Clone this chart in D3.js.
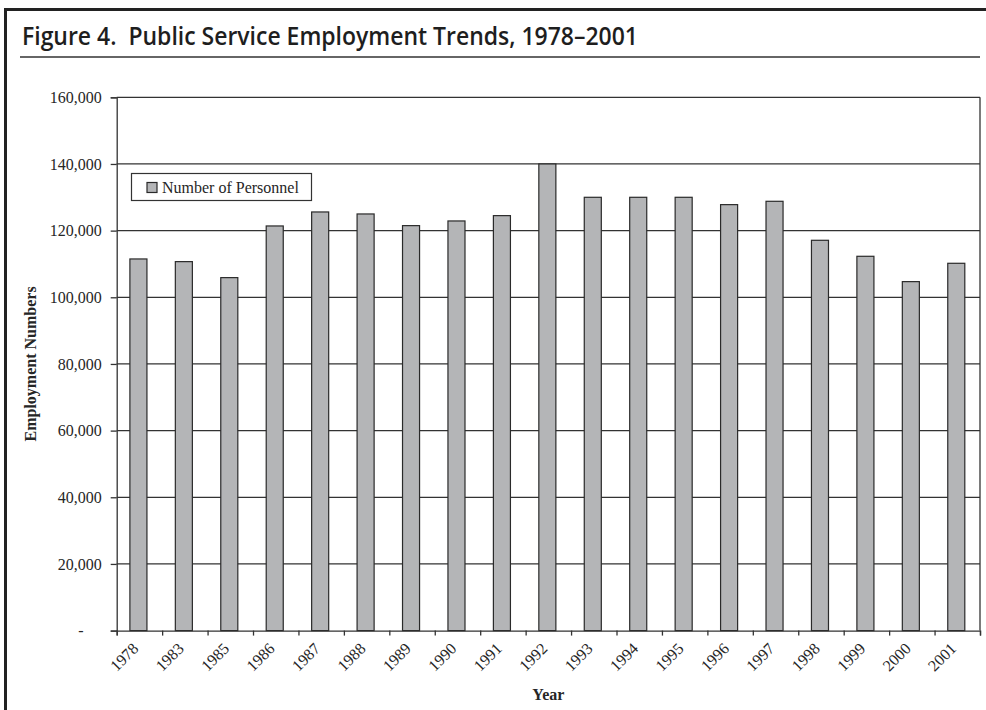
<!DOCTYPE html>
<html>
<head>
<meta charset="utf-8">
<script src="https://cdn.jsdelivr.net/npm/d3@7/dist/d3.min.js"></script>
<style>
  html, body { margin: 0; padding: 0; background: #fff; }
  svg { display: block; }
</style>
</head>
<body>
<svg id="chart" width="986" height="710"></svg>
<script>
// Public service personnel counts by year
const years = ["1978", "1983", "1985", "1986", "1987", "1988", "1989", "1990", "1991", "1992",
               "1993", "1994", "1995", "1996", "1997", "1998", "1999", "2000", "2001"];
const personnel = [111500, 110700, 105900, 121400, 125600, 125000, 121500, 122900, 124500, 140000,
                   130000, 130000, 130000, 127800, 128800, 117100, 112300, 104700, 110200];
const yTicks = [0, 20000, 40000, 60000, 80000, 100000, 120000, 140000, 160000];
const seriesName = "Number of Personnel";
const titleText = "Figure 4.  Public Service Employment Trends, 1978\u20132001";

const svg = d3.select("#chart");
const serif = "'Liberation Serif', 'Times New Roman', serif";
const ink = "#262626";

// Outer frame and heading rule
svg.append("rect")
  .attr("x", 5.5).attr("y", 9.5).attr("width", 1000).attr("height", 800)
  .attr("fill", "none").attr("stroke", "#222").attr("stroke-width", 3);

svg.append("text")
  .attr("x", 22).attr("y", 45)
  .attr("font-family", "'Open Sans', 'Noto Sans', sans-serif")
  .attr("font-weight", 600).attr("font-size", 25)
  .attr("fill", "#1e1e1e")
  .attr("textLength", 616).attr("lengthAdjust", "spacingAndGlyphs")
  .attr("xml:space", "preserve")
  .text(titleText);

svg.append("line")
  .attr("x1", 20).attr("x2", 980).attr("y1", 57).attr("y2", 57)
  .attr("stroke", "#333").attr("stroke-width", 1.5);

// Plot area
const plot = { left: 116.7, right: 980, top: 97.3, bottom: 630.6 };

const x = d3.scaleBand().domain(years).range([plot.left, plot.right]).padding(0);
const y = d3.scaleLinear().domain([0, 160000]).range([plot.bottom, plot.top]);
const barWidth = x.step() * 0.375;

// Horizontal gridlines
svg.append("g").selectAll("line").data(yTicks.filter(d => d > 0)).join("line")
  .attr("x1", plot.left).attr("x2", plot.right)
  .attr("y1", d => y(d)).attr("y2", d => y(d))
  .attr("stroke", "#333").attr("stroke-width", 1.3);

// Right edge of the plot area
svg.append("line")
  .attr("x1", plot.right).attr("x2", plot.right)
  .attr("y1", plot.top).attr("y2", plot.bottom)
  .attr("stroke", "#333").attr("stroke-width", 1.3);

// Bars
svg.append("g").selectAll("rect").data(years).join("rect")
  .attr("x", (d, i) => x(d) + x.step() / 2 - barWidth / 2 - 1)
  .attr("y", (d, i) => y(personnel[i]))
  .attr("width", barWidth)
  .attr("height", (d, i) => y(0) - y(personnel[i]))
  .attr("fill", "#b4b5b7")
  .attr("stroke", "#2a2a2a").attr("stroke-width", 1.2);

// Y axis
const yAxis = d3.axisLeft(y)
  .tickValues(yTicks)
  .tickSize(6)
  .tickPadding(6)
  .tickFormat(d => d === 0 ? "-" : d3.format(",")(d));

const yg = svg.append("g")
  .attr("transform", `translate(${plot.left},0)`)
  .call(yAxis);
yg.select(".domain").attr("stroke", "#333").attr("stroke-width", 1.3);
yg.selectAll(".tick line").attr("stroke", "#333").attr("stroke-width", 1.3);
yg.selectAll(".tick text")
  .attr("font-family", serif).attr("font-size", 16).attr("fill", ink)
  .attr("x", d => d === 0 ? -33 : -15);

// X axis: tick marks on category boundaries, labels under each category
const bounds = d3.scaleLinear().domain([0, years.length]).range([plot.left, plot.right]);
const xg = svg.append("g")
  .attr("transform", `translate(0,${plot.bottom})`)
  .call(d3.axisBottom(bounds).tickValues(d3.range(years.length + 1)).tickSize(5).tickFormat(""));
xg.select(".domain").attr("stroke", "#333").attr("stroke-width", 1.3);
xg.selectAll(".tick line").attr("stroke", "#333").attr("stroke-width", 1.3);

svg.append("g").selectAll("text").data(years).join("text")
  .attr("transform", d => `translate(${x(d) + x.step() / 2 - 4},${plot.bottom + 15}) rotate(-45)`)
  .attr("text-anchor", "end")
  .attr("dy", "0.35em")
  .attr("font-family", serif).attr("font-size", 16).attr("fill", ink)
  .text(d => d);

// Axis titles
svg.append("text")
  .attr("x", (plot.left + plot.right) / 2).attr("y", 700)
  .attr("text-anchor", "middle")
  .attr("font-family", serif).attr("font-weight", "bold").attr("font-size", 16).attr("fill", ink)
  .text("Year");

svg.append("text")
  .attr("transform", `translate(36,${(plot.top + plot.bottom) / 2}) rotate(-90)`)
  .attr("text-anchor", "middle")
  .attr("font-family", serif).attr("font-weight", "bold").attr("font-size", 16).attr("fill", ink)
  .text("Employment Numbers");

// Legend
const legend = svg.append("g").attr("transform", "translate(131.5,173.5)");
legend.append("rect")
  .attr("width", 180).attr("height", 27)
  .attr("fill", "#fff").attr("stroke", "#333").attr("stroke-width", 1.2);
legend.append("rect")
  .attr("x", 15.5).attr("y", 9).attr("width", 10).attr("height", 10)
  .attr("fill", "#b4b5b7").attr("stroke", "#2a2a2a").attr("stroke-width", 1.2);
legend.append("text")
  .attr("x", 30.5).attr("y", 14).attr("dy", "0.35em")
  .attr("font-family", serif).attr("font-size", 16).attr("fill", ink)
  .text(seriesName);
</script>
</body>
</html>
